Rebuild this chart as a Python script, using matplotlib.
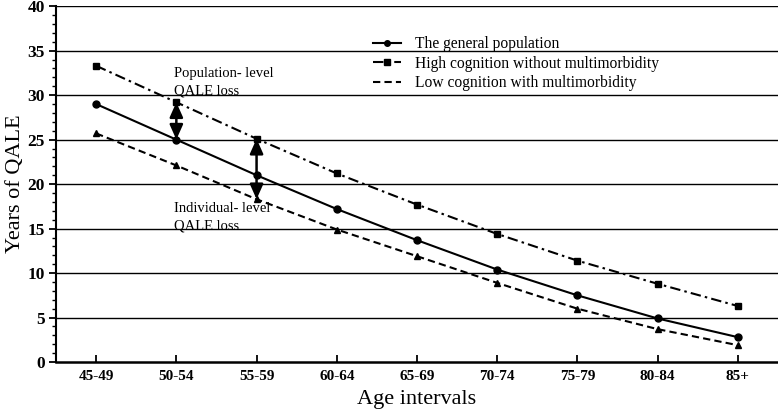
import numpy as np
import matplotlib
matplotlib.use("Agg")
import matplotlib.pyplot as plt
from matplotlib.ticker import MultipleLocator
from matplotlib.lines import Line2D

plt.rcParams['font.family'] = ['Liberation Serif', 'DejaVu Serif']

ages = ["45-49", "50-54", "55-59", "60-64", "65-69", "70-74", "75-79", "80-84", "85+"]
general = [29.0, 25.0, 21.0, 17.2, 13.7, 10.4, 7.5, 4.9, 2.8]
high_no_mm = [33.3, 29.2, 25.1, 21.2, 17.7, 14.4, 11.4, 8.8, 6.3]
low_mm = [25.7, 22.1, 18.3, 14.9, 11.9, 8.9, 6.0, 3.7, 1.9]
labels = ["The general population", "High cognition without multimorbidity",
          "Low cognition with multimorbidity"]

x = np.arange(len(ages))
dashdot = (0, (5, 2, 1.2, 2))
dashed = (0, (3.5, 2))

fig = plt.figure(figsize=(7.78, 4.11), dpi=100)
ax = fig.add_axes([0.072, 0.119, 0.928, 0.866])

for yv in range(5, 45, 5):
    ax.axhline(yv, color="black", lw=1.0, zorder=1)

ax.plot(x, general, color="black", lw=1.5, marker="o", ms=5, zorder=3)
ax.plot(x, high_no_mm, color="black", lw=1.5, marker="s", ms=5, linestyle=dashdot, zorder=3)
ax.plot(x, low_mm, color="black", lw=1.5, marker="^", ms=5, linestyle=dashed, zorder=3)

# double-headed arrows
arrow_kw = dict(arrowstyle="<|-|>,head_length=0.9,head_width=0.4", color="black", lw=1.8,
                shrinkA=0, shrinkB=0)
ax.annotate("", xy=(1, high_no_mm[1]), xytext=(1, general[1]), arrowprops=arrow_kw, zorder=4)
ax.annotate("", xy=(2, high_no_mm[2]), xytext=(2, low_mm[2]), arrowprops=arrow_kw, zorder=4)

ax.text(0.97, 31.5, "Population- level\nQALE loss", fontsize=10.5, ha="left", va="center",
        linespacing=1.45)
ax.text(0.97, 16.3, "Individual- level\nQALE loss", fontsize=10.5, ha="left", va="center",
        linespacing=1.45)

ax.set_xlim(-0.5, 8.5)
ax.set_ylim(0, 40)
ax.set_xticks(x)
ax.set_xticklabels(ages, fontsize=11, fontweight="bold")
ax.yaxis.set_major_locator(MultipleLocator(5))
ax.yaxis.set_minor_locator(MultipleLocator(1))
for lab in ax.get_yticklabels():
    lab.set_fontweight("bold")
    lab.set_fontsize(12.5)
ax.tick_params(axis="x", direction="in", length=5, width=1.3, pad=6)
ax.tick_params(axis="y", which="major", direction="out", length=5, width=1.3, pad=3)
ax.tick_params(axis="y", which="minor", direction="out", length=3, width=1.0)

for s in ["top", "right"]:
    ax.spines[s].set_visible(False)
ax.spines["left"].set_linewidth(1.5)
ax.spines["bottom"].set_linewidth(1.8)

ax.set_xlabel("Age intervals", fontsize=16, labelpad=5)
ax.set_ylabel("Years of QALE", fontsize=16, labelpad=2)

handles = [
    Line2D([], [], color="black", lw=1.5, marker="o", ms=4),
    Line2D([], [], color="black", lw=1.5, marker="s", ms=4, linestyle=dashdot),
    Line2D([], [], color="black", lw=1.5, linestyle=dashed),
]
ax.legend(handles, labels, loc="upper left", bbox_to_anchor=(0.42, 0.955), frameon=False,
          fontsize=11.2, handlelength=1.8, labelspacing=0.22, handletextpad=0.9)

fig.savefig("out.png", dpi=100)
